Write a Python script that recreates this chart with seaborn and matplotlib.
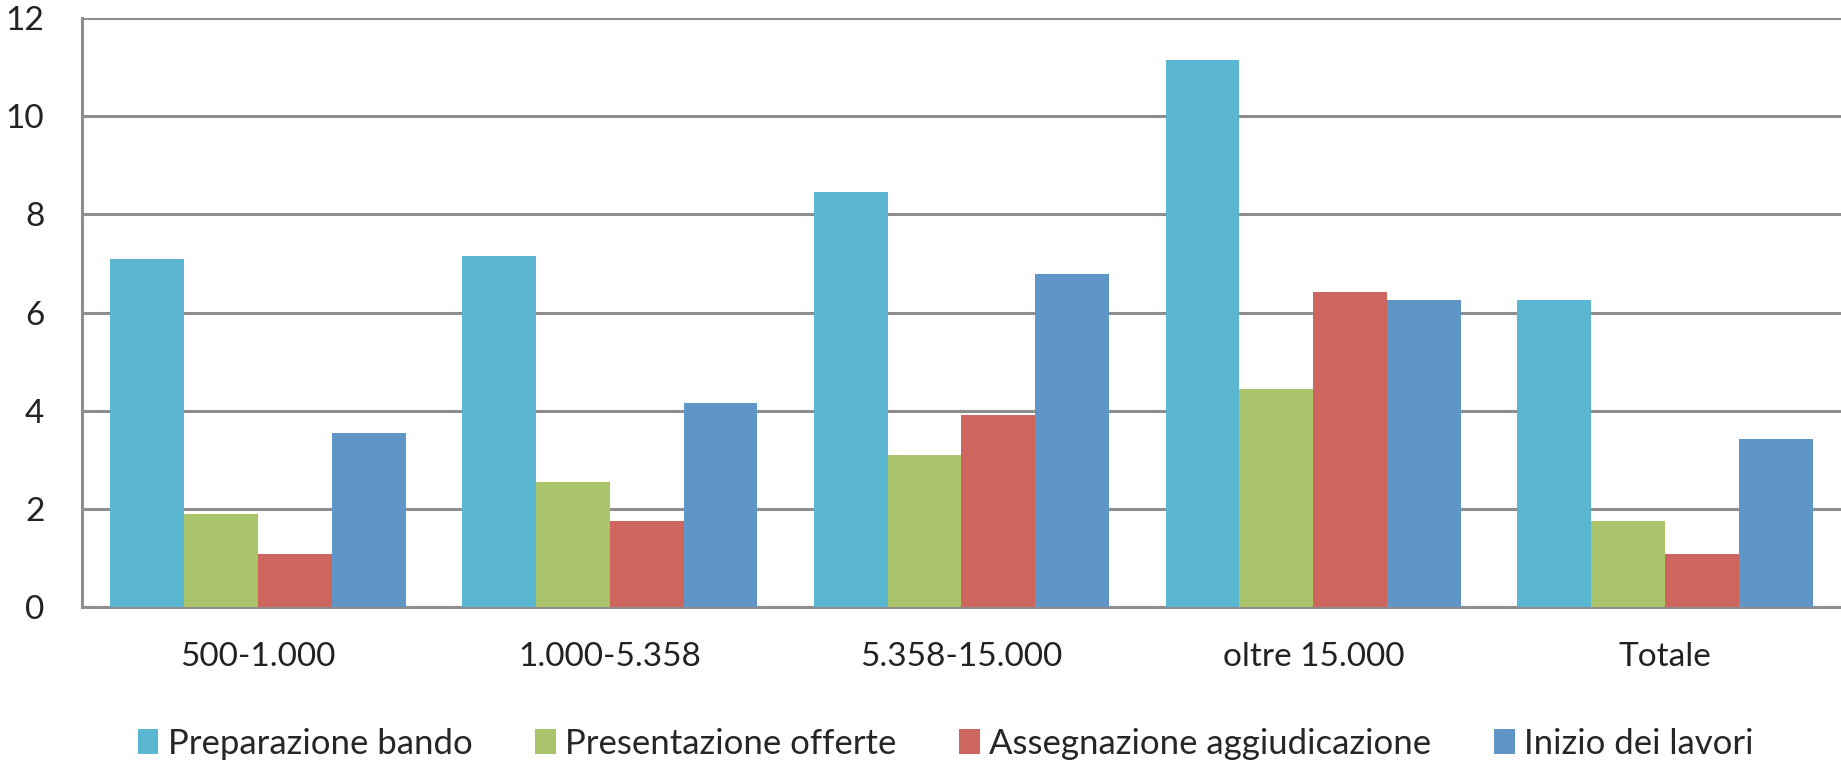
import pandas as pd
import numpy as np
import matplotlib.pyplot as plt
import seaborn as sns

# Data
categories = ['500-1.000', '1.000-5.358', '5.358-15.000', 'oltre 15.000', 'Totale']
series = ['Preparazione bando', 'Presentazione offerte', 'Assegnazione aggiudicazione', 'Inizio dei lavori']
preparazione = [7.1, 7.15, 8.45, 11.15, 6.25]
presentazione = [1.9, 2.55, 3.1, 4.45, 1.75]
assegnazione = [1.08, 1.75, 3.92, 6.42, 1.08]
inizio = [3.55, 4.15, 6.78, 6.25, 3.42]
colors = ['#5bb7d1', '#a9c46b', '#cc665f', '#6095c8']

# Long table for seaborn
rows = []
for name, vals in zip(series, [preparazione, presentazione, assegnazione, inizio]):
    for cat, v in zip(categories, vals):
        rows.append({'Classe': cat, 'Serie': name, 'Valore': v})
df = pd.DataFrame(rows)

sns.set_style('white')
plt.rcParams['font.family'] = ['Lato', 'DejaVu Sans']

fig = plt.figure(figsize=(18.41, 7.61), dpi=100)
ax = fig.add_axes([0.0445, 0.2024, 0.9555, 0.7739])

sns.barplot(data=df, x='Classe', y='Valore', hue='Serie', order=categories,
            hue_order=series, palette=colors, width=0.84, gap=0,
            saturation=1, edgecolor='none', ax=ax, zorder=3)

ax.set_xlim(-0.5, 4.5)
ax.set_ylim(0, 12)
ax.set_yticks(range(0, 13, 2))
ax.yaxis.grid(True, color='#8e8e8e', linewidth=2.2, zorder=0)
ax.set_axisbelow(True)
ax.set_xlabel('')
ax.set_ylabel('')

for side in ['top', 'right']:
    ax.spines[side].set_visible(False)
for side in ['left', 'bottom']:
    ax.spines[side].set_color('#8e8e8e')
    ax.spines[side].set_linewidth(2.2)

ax.tick_params(axis='y', labelsize=24, pad=22, length=5, width=2, colors='#222222')
ax.tick_params(axis='y', color='#8e8e8e')
ax.tick_params(axis='x', labelsize=24, pad=25, length=0, colors='#222222')

ax.legend(loc='center', bbox_to_anchor=(0.491, -0.232), ncol=4, frameon=False,
          fontsize=25, handlelength=0.6, handleheight=0.75, handletextpad=0.27,
          columnspacing=1.8, borderpad=0)

fig.savefig('out.png', dpi=100)
